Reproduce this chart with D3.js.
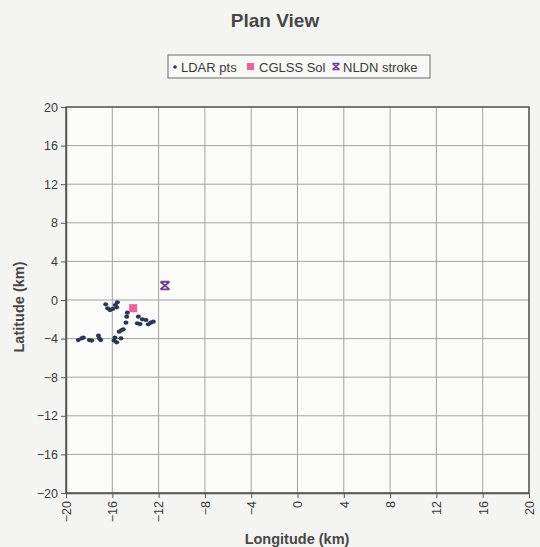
<!DOCTYPE html>
<html>
<head>
<meta charset="utf-8">
<script src="https://cdn.jsdelivr.net/npm/d3@7"></script>
<style>
  html, body { margin: 0; padding: 0; background: #f4f4f2; }
  svg { display: block; font-family: Arial, "Liberation Sans", sans-serif; }
</style>
</head>
<body>
<svg id="chart" width="540" height="547"></svg>
<script>
// LDAR source points (longitude km, latitude km)
const ldarLon = [-18.94, -18.65, -18.5, -17.98, -17.78, -17.2, -17.12, -17.0,
  -16.57, -16.4, -16.2, -15.97, -15.74, -15.56, -15.62,
  -14.7, -14.76, -14.82, -15.19, -15.4, -15.05, -15.77, -15.85, -15.62, -15.25,
  -13.75, -13.4, -13.09, -13.6, -13.84, -12.89, -12.68, -12.46];
const ldarLat = [-4.15, -3.97, -3.9, -4.15, -4.2, -3.7, -3.97, -4.15,
  -0.45, -0.86, -1.04, -0.93, -0.52, -0.24, -0.76,
  -1.31, -1.73, -2.35, -3.11, -3.28, -3.04, -3.9, -4.2, -4.39, -3.97,
  -1.73, -2.0, -2.07, -2.49, -2.42, -2.52, -2.35, -2.25];
// CGLSS solution
const cglssLon = [-14.2];
const cglssLat = [-0.85];
// NLDN stroke
const nldnLon = [-11.45];
const nldnLat = [1.5];
// Axis ticks
const tickValues = [-20, -16, -12, -8, -4, 0, 4, 8, 12, 16, 20];
const legendLabels = ["LDAR pts", "CGLSS Sol", "NLDN stroke"];

const svg = d3.select("#chart");
const x = d3.scaleLinear().domain([-20, 20]).range([66, 529]);
const y = d3.scaleLinear().domain([-20, 20]).range([493, 107]);

// title
svg.append("text").attr("x", 275).attr("y", 27).attr("text-anchor", "middle")
  .attr("font-size", 19).attr("font-weight", "bold").attr("fill", "#474747")
  .text("Plan View");

// plot area
svg.append("rect").attr("x", x(-20)).attr("y", y(20))
  .attr("width", x(20) - x(-20)).attr("height", y(-20) - y(20))
  .attr("fill", "#fbfbfa");

// grid lines
const grid = svg.append("g").attr("stroke", "#a3a3a3").attr("stroke-width", 1);
grid.selectAll(".vx").data(tickValues).join("line")
  .attr("x1", d => x(d)).attr("x2", d => x(d))
  .attr("y1", y(20)).attr("y2", y(-20));
grid.selectAll(".hy").data(tickValues).join("line")
  .attr("x1", x(-20)).attr("x2", x(20))
  .attr("y1", d => y(d)).attr("y2", d => y(d));

// axes
const xAxis = svg.append("g").attr("transform", `translate(0,${y(-20)})`)
  .call(d3.axisBottom(x).tickValues(tickValues).tickSize(5).tickSizeOuter(0).tickFormat(d3.format("d")));
xAxis.selectAll("text")
  .attr("transform", "rotate(-90)")
  .attr("text-anchor", "end")
  .attr("x", -8).attr("y", 0).attr("dy", "0.35em");
const yAxis = svg.append("g").attr("transform", `translate(${x(-20)},0)`)
  .call(d3.axisLeft(y).tickValues(tickValues).tickSize(5).tickSizeOuter(0).tickFormat(d3.format("d")));
[xAxis, yAxis].forEach(a => {
  a.select(".domain").attr("stroke", "#5a5a5a").attr("stroke-width", 1.5);
  a.selectAll(".tick line").attr("stroke", "#5a5a5a");
  a.selectAll("text").attr("font-size", 12.5).attr("fill", "#3a3a3a")
    .attr("font-family", "Arial, 'Liberation Sans', sans-serif");
});
yAxis.selectAll("text").attr("x", -8);

// frame
svg.append("rect").attr("x", x(-20)).attr("y", y(20))
  .attr("width", x(20) - x(-20)).attr("height", y(-20) - y(20))
  .attr("fill", "none").attr("stroke", "#5a5a5a").attr("stroke-width", 1.5);

// axis titles
svg.append("text").attr("x", 297).attr("y", 544).attr("text-anchor", "middle")
  .attr("font-size", 14.5).attr("font-weight", "bold").attr("fill", "#474747")
  .text("Longitude (km)");
svg.append("text").attr("transform", "translate(24,307) rotate(-90)")
  .attr("text-anchor", "middle").attr("font-size", 14.5).attr("font-weight", "bold")
  .attr("fill", "#474747").text("Latitude (km)");

// LDAR points
const ldar = ldarLon.map((lon, i) => ({ lon, lat: ldarLat[i] }));
svg.append("g").selectAll("ellipse").data(ldar).join("ellipse")
  .attr("cx", d => x(d.lon)).attr("cy", d => y(d.lat))
  .attr("rx", 2.5).attr("ry", 2.1).attr("fill", "#2c3650");

// CGLSS solution
const sq = 8;
svg.append("g").selectAll("rect").data(cglssLon.map((lon, i) => ({ lon, lat: cglssLat[i] })))
  .join("rect")
  .attr("x", d => x(d.lon) - sq / 2).attr("y", d => y(d.lat) - sq / 2)
  .attr("width", sq).attr("height", sq).attr("fill", "#f0609a");

// NLDN stroke marker: an X closed by bars top and bottom
function starPath(cx, cy, rx, ry) {
  return `M${cx - rx},${cy - ry}L${cx + rx},${cy + ry}M${cx + rx},${cy - ry}L${cx - rx},${cy + ry}` +
    `M${cx - rx},${cy - ry}L${cx + rx},${cy - ry}M${cx - rx},${cy + ry}L${cx + rx},${cy + ry}`;
}
svg.append("g").selectAll("path").data(nldnLon.map((lon, i) => ({ lon, lat: nldnLat[i] })))
  .join("path")
  .attr("d", d => starPath(x(d.lon), y(d.lat), 4.5, 3.8))
  .attr("stroke", "#6b3f8e").attr("stroke-width", 1.8).attr("fill", "none");

// legend
const lg = svg.append("g");
lg.append("rect").attr("x", 168).attr("y", 55).attr("width", 262).attr("height", 23)
  .attr("fill", "#f8f8f6").attr("stroke", "#6a6a6a").attr("stroke-width", 1);
lg.append("circle").attr("cx", 175).attr("cy", 67).attr("r", 1.8).attr("fill", "#2c3650");
lg.append("rect").attr("x", 247).attr("y", 63).attr("width", 7).attr("height", 7).attr("fill", "#f0609a");
lg.append("path").attr("d", starPath(336, 66.5, 3.5, 3)).attr("stroke", "#6b3f8e")
  .attr("stroke-width", 1.5).attr("fill", "none");
const lx = [181, 259, 343];
legendLabels.forEach((t, i) => {
  lg.append("text").attr("x", lx[i]).attr("y", 71.5).attr("font-size", 13)
    .attr("fill", "#3a3a3a").text(t);
});
</script>
</body>
</html>
